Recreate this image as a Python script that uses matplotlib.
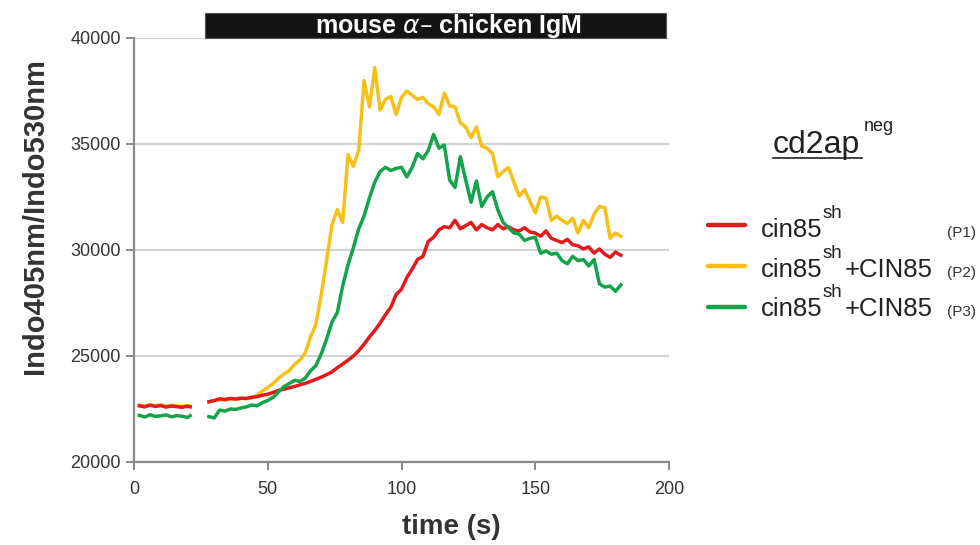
#! /usr/bin/env python
# coding=utf8

'''
Indo ratio vs time after mouse anti-chicken IgM, cd2ap neg cells.
'''

import numpy as np
import matplotlib
matplotlib.use('Agg')
import matplotlib.pyplot as plt
from matplotlib import rcParams
from matplotlib.patches import Rectangle
from matplotlib.lines import Line2D
import matplotlib.transforms as mtransforms

rcParams['font.family'] = ['Liberation Sans', 'DejaVu Sans']

# data {{{
t_pre = [2, 4, 6, 8, 10, 12, 14, 16, 18, 20, 21]
red_pre = [22650, 22600, 22680, 22620, 22660, 22590, 22640, 22610, 22580, 22630, 22600]
yel_pre = [22680, 22640, 22700, 22660, 22690, 22630, 22670, 22650, 22620, 22660, 22640]
grn_pre = [22200, 22120, 22230, 22150, 22180, 22220, 22130, 22190, 22160, 22100, 22180]

t_post = list(range(28, 183, 2))
red_post = [22840, 22900, 22980, 22950, 23000, 22970, 23010, 23000, 23050, 23080,
            23150, 23200, 23280, 23380, 23430, 23500, 23560, 23640, 23710, 23800,
            23900, 24000, 24120, 24250, 24450, 24620, 24800, 25000, 25250, 25550,
            25900, 26200, 26550, 26950, 27300, 27900, 28150, 28700, 29100, 29550,
            29700, 30400, 30600, 30950, 31100, 31050, 31400, 31000, 31150, 31300,
            30950, 31200, 31050, 30950, 31200, 31000, 31100, 30950, 30900, 31050,
            30850, 30800, 30650, 30900, 30550, 30450, 30350, 30500, 30250, 30200,
            30050, 30150, 29850, 30050, 29800, 29650, 29900, 29750]
yel_post = [22840, 22900, 22950, 22920, 22980, 22960, 23000, 22990, 23020, 23150,
            23350, 23500, 23700, 23950, 24150, 24300, 24600, 24800, 25150, 25900,
            26500, 27900, 29500, 31200, 31900, 31300, 34500, 33950, 34700, 38000,
            36750, 38600, 36600, 37100, 37250, 36400, 37200, 37500, 37300, 37100,
            37200, 36900, 36750, 36400, 37400, 36800, 36750, 36000, 35800, 35300,
            35800, 34900, 34800, 34550, 33450, 33700, 33900, 33200, 32550, 32850,
            32300, 31750, 32500, 32450, 31400, 31600, 31400, 31250, 31500, 30800,
            31400, 31050, 31700, 32050, 32000, 30550, 30800, 30650]
grn_post = [22140, 22080, 22450, 22400, 22500, 22480, 22550, 22600, 22690, 22650,
            22800, 22900, 23050, 23300, 23550, 23700, 23850, 23800, 23950, 24300,
            24550, 25100, 25800, 26600, 27050, 28300, 29300, 30100, 31000, 31600,
            32450, 33200, 33700, 33900, 33750, 33850, 33900, 33450, 33900, 34550,
            34300, 34700, 35450, 34800, 34950, 33300, 32950, 34400, 33300, 32250,
            33250, 32050, 32500, 32750, 31900, 31300, 31050, 30800, 30750, 30450,
            30550, 30600, 29850, 29950, 29800, 29850, 29500, 29350, 29700, 29500,
            29550, 29250, 29550, 28400, 28250, 28300, 28050, 28350]

xticks = [0, 50, 100, 150, 200]
yticks = [20000, 25000, 30000, 35000, 40000]
#}}}

RED = '#e3191c'
YEL = '#f8bf17'
GRN = '#13a34b'

W, H = 980., 545.
def fx(px): return px / W
def fy(py): return 1. - py / H

fig = plt.figure(figsize=(9.8, 5.45), dpi=100)
ax = fig.add_axes([fx(134), fy(462), fx(669) - fx(134), fy(38) - fy(462)])

for tp, yp, tq, yq, c in [(t_pre, yel_pre, t_post, yel_post, YEL),
                          (t_pre, red_pre, t_post, red_post, RED),
                          (t_pre, grn_pre, t_post, grn_post, GRN)]:
    ax.plot(tp, yp, color=c, lw=2.5, zorder=3, solid_joinstyle='round')
    ax.plot(tq, yq, color=c, lw=2.5, zorder=3, solid_joinstyle='round')

ax.set_xlim(0, 200)
ax.set_ylim(20000, 40000)
ax.set_xticks(xticks)
ax.set_yticks(yticks)
ax.yaxis.grid(True, color='#d3d3d3', lw=1.6, zorder=0)
ax.set_axisbelow(True)
for s in ['top', 'right']:
    ax.spines[s].set_visible(False)
for s in ['left', 'bottom']:
    ax.spines[s].set_color('#8a8a8a')
    ax.spines[s].set_linewidth(1.6)
ax.tick_params(axis='both', colors='#8a8a8a', width=1.4, length=6,
               labelcolor='#333333', labelsize=13)
ax.tick_params(axis='x', pad=8)

# stimulus bar
trans = mtransforms.blended_transform_factory(ax.transData, ax.transAxes)
ax.add_patch(Rectangle((26.5, 1.0), 199 - 26.5, 25. / 424, transform=trans,
                       facecolor='#141414', edgecolor='#555555', lw=0.8,
                       clip_on=False, zorder=5))
ax.text(117.5, 1.0 + 12.5 / 424, u'mouse $\\alpha$\u2013 chicken IgM', transform=trans,
        ha='center', va='center', color='white', fontsize=18, fontweight='bold',
        zorder=6)

# axis labels
fig.text(fx(35), fy(216), 'Indo405nm/Indo530nm', rotation=90, ha='center',
         va='center', fontsize=21, fontweight='bold', color='#333333')
fig.text(fx(451), fy(527), 'time (s)', ha='center', va='center', fontsize=20,
         fontweight='bold', color='#333333')

# legend {{{
fig.text(fx(773), fy(153), 'cd2ap', fontsize=23, color='#222222', va='baseline')
fig.text(fx(864), fy(131), 'neg', fontsize=13, color='#222222', va='baseline')
fig.add_artist(Line2D([fx(773), fx(862)], [fy(158), fy(158)], color='#222222', lw=1.2))

rows = [(RED, 225, 237, '', '(P1)'),
        (YEL, 266, 277, '+CIN85', '(P2)'),
        (GRN, 307, 316, '+CIN85', '(P3)')]
for c, ly, by, extra, tag in rows:
    fig.add_artist(Line2D([fx(708), fx(745)], [fy(ly), fy(ly)], color=c, lw=3.2,
                          solid_capstyle='round'))
    fig.text(fx(761), fy(by), 'cin85', fontsize=18.5, color='#222222', va='baseline')
    fig.text(fx(823), fy(by - 19), 'sh', fontsize=13.5, color='#222222', va='baseline')
    if extra:
        fig.text(fx(845), fy(by), extra, fontsize=18.5, color='#222222', va='baseline')
    fig.text(fx(976), fy(by), tag, fontsize=11, color='#333333', va='baseline', ha='right')
#}}}

fig.savefig('out.png', dpi=100)
